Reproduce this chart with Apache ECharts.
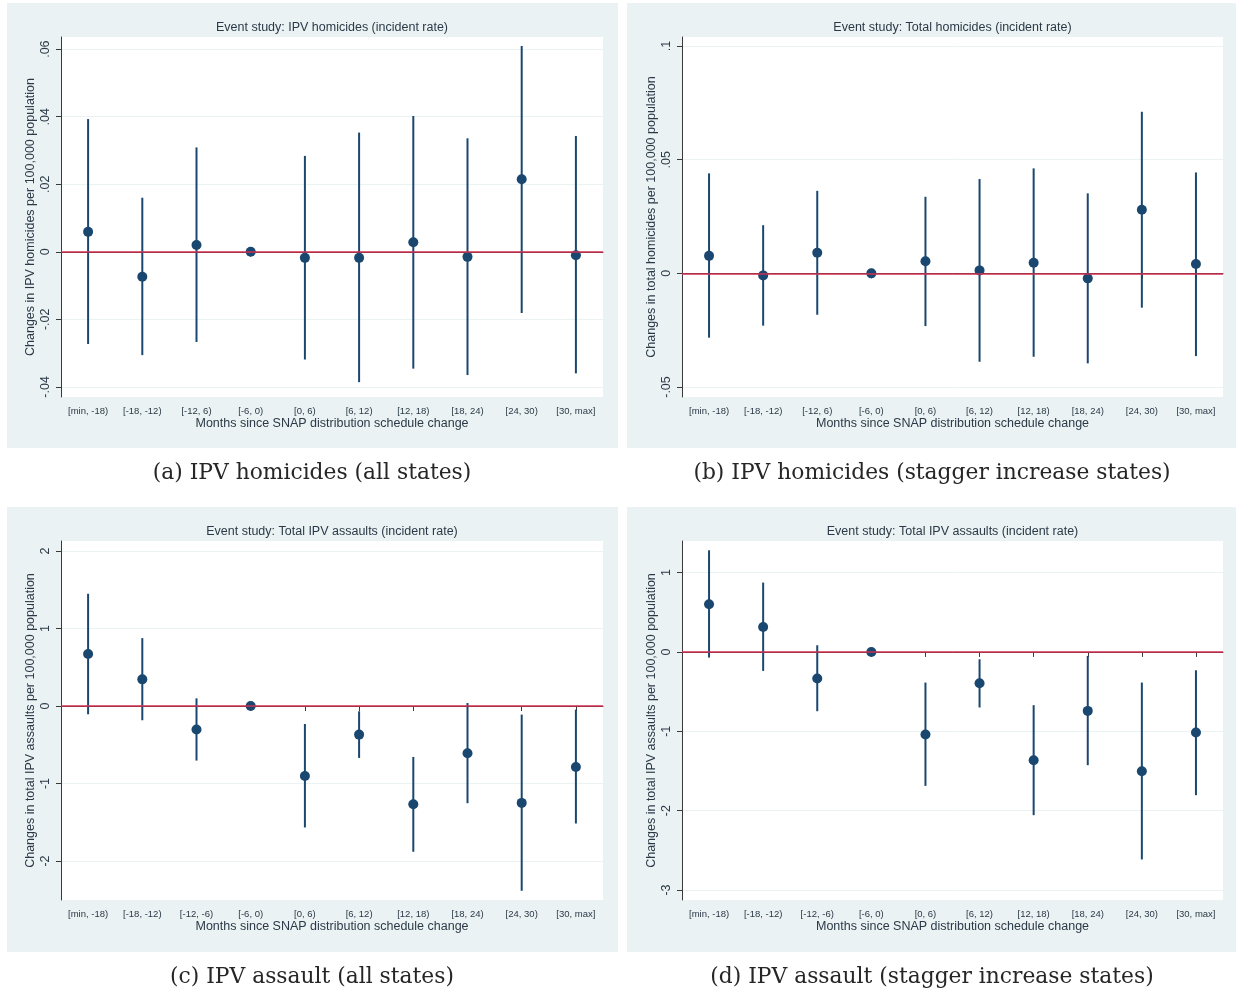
<!DOCTYPE html>
<html>
<head>
<meta charset="utf-8">
<script src="https://cdn.jsdelivr.net/npm/echarts@6/dist/echarts.min.js"></script>
<style>
html,body{margin:0;padding:0;background:#fff;}
#c{width:1236px;height:993px;}
</style>
</head>
<body>
<div id="c"></div>
<script>
// ---------- data ----------
const catsHom = ['[min, -18)', '[-18, -12)', '[-12, 6)', '[-6, 0)', '[0, 6)', '[6, 12)', '[12, 18)', '[18, 24)', '[24, 30)', '[30, max]'];
const catsAss = ['[min, -18)', '[-18, -12)', '[-12, -6)', '[-6, 0)', '[0, 6)', '[6, 12)', '[12, 18)', '[18, 24)', '[24, 30)', '[30, max]'];

// (a) IPV homicides, all states
const estA = [0.0059, -0.0074, 0.0020, 0, -0.0018, -0.0018, 0.0028, -0.0015, 0.0215, -0.0010];
const loA  = [-0.0273, -0.0306, -0.0267, null, -0.0319, -0.0386, -0.0346, -0.0365, -0.0181, -0.0360];
const hiA  = [0.0393, 0.0160, 0.0309, null, 0.0284, 0.0353, 0.0402, 0.0336, 0.0609, 0.0343];
const ticksA = [-0.04, -0.02, 0, 0.02, 0.04, 0.06];

// (b) IPV homicides (total), stagger increase states
const estB = [0.0077, -0.0009, 0.0091, 0, 0.0053, 0.0013, 0.0047, -0.0022, 0.0280, 0.0041];
const loB  = [-0.0283, -0.0230, -0.0182, null, -0.0232, -0.0389, -0.0367, -0.0396, -0.0151, -0.0364];
const hiB  = [0.0440, 0.0212, 0.0363, null, 0.0337, 0.0415, 0.0462, 0.0352, 0.0711, 0.0444];
const ticksB = [-0.05, 0, 0.05, 0.1];

// (c) IPV assault, all states
const estC = [0.670, 0.344, -0.304, 0, -0.902, -0.369, -1.267, -0.610, -1.250, -0.786];
const loC  = [-0.107, -0.184, -0.704, null, -1.567, -0.670, -1.881, -1.254, -2.384, -1.516];
const hiC  = [1.448, 0.876, 0.099, null, -0.232, -0.068, -0.657, 0.039, -0.111, -0.047];
const ticksC = [-2, -1, 0, 1, 2];

// (d) IPV assault, stagger increase states
const estD = [0.601, 0.315, -0.335, 0, -1.041, -0.394, -1.364, -0.743, -1.503, -1.015];
const loD  = [-0.071, -0.239, -0.747, null, -1.688, -0.700, -2.057, -1.427, -2.615, -1.805];
const hiD  = [1.281, 0.874, 0.084, null, -0.386, -0.092, -0.671, -0.050, -0.386, -0.231];
const ticksD = [-3, -2, -1, 0, 1];

const titles = [
  'Event study: IPV homicides (incident rate)',
  'Event study: Total homicides (incident rate)',
  'Event study: Total IPV assaults (incident rate)',
  'Event study: Total IPV assaults (incident rate)'
];
const yNames = [
  'Changes in IPV homicides per 100,000 population',
  'Changes in total homicides per 100,000 population',
  'Changes in total IPV assaults per 100,000 population',
  'Changes in total IPV assaults per 100,000 population'
];
const xName = 'Months since SNAP distribution schedule change';
const captions = [
  '(a) IPV homicides (all states)',
  '(b) IPV homicides (stagger increase states)',
  '(c) IPV assault (all states)',
  '(d) IPV assault (stagger increase states)'
];

// ---------- layout ----------
const panels = [
  {cats: catsHom, est: estA, lo: loA, hi: hiA, ticks: ticksA, min: -0.0430, max: 0.0636,
   grid: {left: 61, top: 37, width: 542, height: 360}, bg: [7, 3, 611, 445], cap: [312, 474]},
  {cats: catsHom, est: estB, lo: loB, hi: hiB, ticks: ticksB, min: -0.0544, max: 0.1040,
   grid: {left: 682, top: 37, width: 541, height: 360}, bg: [627, 3, 609, 445], cap: [932, 474]},
  {cats: catsAss, est: estC, lo: loC, hi: hiC, ticks: ticksC, min: -2.503, max: 2.129,
   grid: {left: 61, top: 541, width: 542, height: 359}, bg: [7, 507, 611, 445], cap: [312, 978]},
  {cats: catsAss, est: estD, lo: loD, hi: hiD, ticks: ticksD, min: -3.126, max: 1.398,
   grid: {left: 682, top: 541, width: 541, height: 359}, bg: [627, 507, 609, 445], cap: [932, 978]}
];

const NAVY = '#1a476f';
const TXT = '#2b3947';
const AXC = '#3a3a3a';
const GRIDC = '#eaf2f3';
const FONT = '"Liberation Sans", Arial, sans-serif';

function fmt(v) {
  let s = String(Math.round(v * 1000) / 1000);
  s = s.replace(/^0\./, '.').replace(/^-0\./, '-.');
  return s;
}

const option = {
  animation: false,
  backgroundColor: '#ffffff',
  graphic: [],
  title: [],
  grid: [],
  xAxis: [],
  yAxis: [],
  series: []
};

panels.forEach((p, i) => {
  option.graphic.push({
    type: 'rect', z: -10, silent: true,
    shape: {x: p.bg[0], y: p.bg[1], width: p.bg[2], height: p.bg[3]},
    style: {fill: '#eaf2f3'}
  });
  option.grid.push(Object.assign({show: true, backgroundColor: '#ffffff', borderWidth: 0, containLabel: false}, p.grid));
  option.title.push({
    text: titles[i], left: p.grid.left + p.grid.width / 2, top: p.grid.top - 16, textAlign: 'center', padding: 0,
    textStyle: {fontFamily: FONT, fontSize: 12.5, fontWeight: 'normal', color: TXT}
  });
  option.title.push({
    text: captions[i], left: p.cap[0], top: p.cap[1] - 12, textAlign: 'center', padding: 0,
    textStyle: {fontFamily: '"DejaVu Serif", serif', fontSize: 21.8, fontWeight: 'normal', color: '#262626'}
  });
  option.xAxis.push({
    type: 'category', gridIndex: i, data: p.cats, boundaryGap: true,
    name: xName, nameLocation: 'middle', nameGap: 20,
    nameTextStyle: {fontFamily: FONT, fontSize: 12.5, color: TXT},
    axisLine: {show: true, lineStyle: {color: AXC, width: 1}},
    axisTick: {show: true, alignWithLabel: true, length: 5, lineStyle: {color: AXC}},
    axisLabel: {fontFamily: FONT, fontSize: 9.5, color: TXT, margin: 9, interval: 0},
    splitLine: {show: false}
  });
  option.yAxis.push({
    type: 'value', gridIndex: i, min: p.min, max: p.max,
    name: yNames[i], nameLocation: 'middle', nameGap: 24, nameRotate: 90,
    nameTextStyle: {fontFamily: FONT, fontSize: 12.5, color: TXT},
    axisLine: {show: true, lineStyle: {color: AXC, width: 1}},
    axisTick: {show: true, length: 5, lineStyle: {color: AXC}, customValues: p.ticks},
    axisLabel: {fontFamily: FONT, fontSize: 12.5, color: TXT, rotate: 90, margin: 9,
      customValues: p.ticks, formatter: fmt},
    splitLine: {show: true, lineStyle: {color: GRIDC, width: 1}}
  });
  // zero reference line
  option.series.push({
    type: 'scatter', xAxisIndex: i, yAxisIndex: i, data: [], z: 1, silent: true,
    markLine: {
      silent: true, symbol: 'none', label: {show: false},
      lineStyle: {color: '#cf2f4f', width: 1.5, type: 'solid'},
      data: [{yAxis: 0}]
    }
  });
  // confidence intervals
  option.series.push({
    type: 'custom', xAxisIndex: i, yAxisIndex: i, z: 2, silent: true,
    data: p.cats.map((c, k) => [k, p.lo[k], p.hi[k]]),
    renderItem: (params, api) => {
      const lo = api.value(1), hi = api.value(2);
      if (lo == null || hi == null || isNaN(lo) || isNaN(hi)) return null;
      const a = api.coord([api.value(0), lo]);
      const b = api.coord([api.value(0), hi]);
      return {type: 'line', shape: {x1: a[0], y1: a[1], x2: b[0], y2: b[1]},
        style: {stroke: NAVY, lineWidth: 2}};
    }
  });
  // point estimates
  option.series.push({
    type: 'scatter', xAxisIndex: i, yAxisIndex: i, z: 3, silent: true,
    symbol: 'circle', symbolSize: 10,
    itemStyle: {color: NAVY, opacity: 1},
    data: p.est.map((v, k) => [k, v])
  });
});

const chart = echarts.init(document.getElementById('c'), null, {renderer: 'canvas'});
chart.setOption(option);
</script>
</body>
</html>
